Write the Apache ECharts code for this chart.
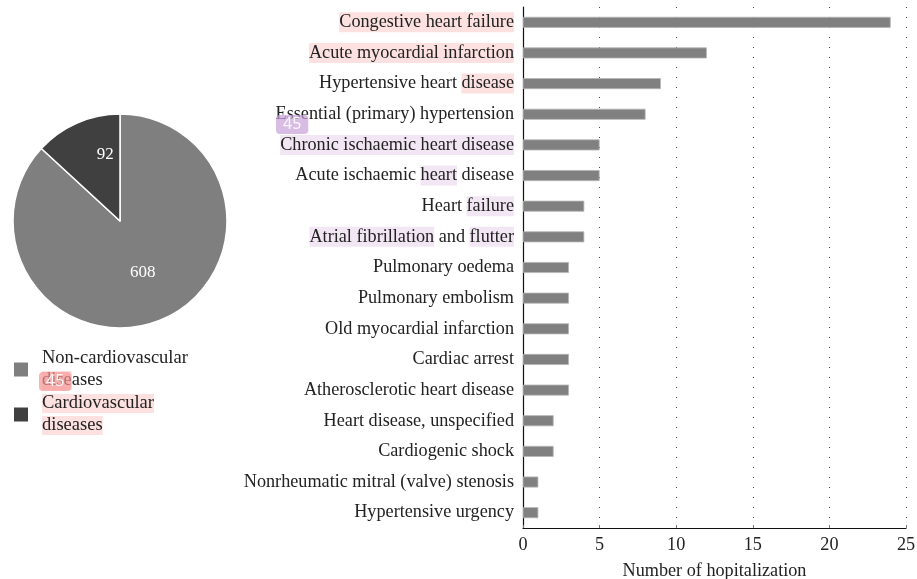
<!DOCTYPE html>
<html>
<head>
<meta charset="utf-8">
<script src="https://cdn.jsdelivr.net/npm/echarts@6/dist/echarts.min.js"></script>
<style>html,body{margin:0;padding:0;background:#fff}#c{width:917px;height:579px}</style>
</head>
<body>
<div id="c"></div>
<script>
// ---- data ----
const categories = [
  'Congestive heart failure',
  'Acute myocardial infarction',
  'Hypertensive heart disease',
  'Essential (primary) hypertension',
  'Chronic ischaemic heart disease',
  'Acute ischaemic heart disease',
  'Heart failure',
  'Atrial fibrillation and flutter',
  'Pulmonary oedema',
  'Pulmonary embolism',
  'Old myocardial infarction',
  'Cardiac arrest',
  'Atherosclerotic heart disease',
  'Heart disease, unspecified',
  'Cardiogenic shock',
  'Nonrheumatic mitral (valve) stenosis',
  'Hypertensive urgency'
];
const counts = [24, 12, 9, 8, 5, 5, 4, 4, 3, 3, 3, 3, 3, 2, 2, 1, 1];
const pieNames = ['Non-cardiovascular diseases', 'Cardiovascular diseases'];
const pieValues = [608, 92];
const xTickValues = [0, 5, 10, 15, 20, 25];
const xAxisTitle = 'Number of hopitalization';

// highlighted text segments (annotation overlays in the reference)
const labelSegments = {
  'Congestive heart failure': [['Congestive heart failure', 'p']],
  'Acute myocardial infarction': [['Acute myocardial infarction', 'p']],
  'Hypertensive heart disease': [['Hypertensive heart ', 'n'], ['disease', 'p']],
  'Chronic ischaemic heart disease': [['Chronic ischaemic heart disease', 'v']],
  'Acute ischaemic heart disease': [['Acute ischaemic ', 'n'], ['heart', 'v'], [' disease', 'n']],
  'Heart failure': [['Heart ', 'n'], ['failure', 'v']],
  'Atrial fibrillation and flutter': [['Atrial fibrillation', 'v'], [' and ', 'n'], ['flutter', 'v']]
};

const FONT = '"Liberation Serif", "Times New Roman", serif';
const TXT = '#222';
const PINK = '#fde1e1';
const LAV = '#f2e6f4';
const FS = 18.2;

function seg(text, style) {
  return '{' + style + '|' + text + '}';
}
function fmtCat(v) {
  const s = labelSegments[v];
  if (!s) return seg(v, 'n');
  return s.map(x => seg(x[0], x[1])).join('');
}
const baseRich = {
  n: { fontFamily: FONT, fontSize: FS, color: TXT, padding: [1, 0, 1, 0] },
  p: { fontFamily: FONT, fontSize: FS, color: TXT, backgroundColor: PINK, padding: [1, 0, 1, 0] },
  v: { fontFamily: FONT, fontSize: FS, color: TXT, backgroundColor: LAV, padding: [1, 0, 1, 0] }
};

const chart = echarts.init(document.getElementById('c'), null, { renderer: 'canvas' });
chart.setOption({
  animation: false,
  backgroundColor: '#fff',
  grid: { left: 523, right: 11, top: 7, bottom: 51, containLabel: false, outerBoundsMode: 'none' },
  xAxis: {
    type: 'value',
    min: xTickValues[0],
    max: xTickValues[xTickValues.length - 1],
    interval: xTickValues[1] - xTickValues[0],
    name: xAxisTitle,
    nameLocation: 'middle',
    nameGap: 34,
    nameTextStyle: { fontFamily: FONT, fontSize: FS, color: TXT },
    axisLine: { show: true, lineStyle: { color: '#111', width: 1.2 } },
    axisTick: { show: true, inside: true, length: 3, lineStyle: { color: '#777' } },
    axisLabel: { fontFamily: FONT, fontSize: FS, color: TXT, margin: 8 },
    splitLine: { show: true, lineStyle: { color: '#444', type: [1, 9], width: 1 } }
  },
  yAxis: {
    type: 'category',
    data: categories,
    inverse: true,
    axisLine: { show: true, lineStyle: { color: '#111', width: 1.2 } },
    axisTick: { show: false },
    axisLabel: { margin: 9, formatter: fmtCat, rich: baseRich },
    splitLine: { show: false }
  },
  legend: {
    orient: 'vertical',
    left: 12,
    top: 349,
    padding: 0,
    itemWidth: 16,
    itemHeight: 16,
    itemGap: 4,
    icon: 'rect',
    data: pieNames,
    formatter: function (name) {
      if (name === pieNames[0]) return '{s|}{n|Non-cardiovascular}\n{s|}{p|dise}{n|ases}';
      return '{s|}{p|Cardiovascular}\n{s|}{p|diseases}';
    },
    textStyle: {
      rich: {
        s: { width: 8, lineHeight: 22 },
        n: { fontFamily: FONT, fontSize: 18.5, color: TXT, lineHeight: 22 },
        p: { fontFamily: FONT, fontSize: 18.5, color: TXT, lineHeight: 22, backgroundColor: PINK }
      }
    }
  },
  series: [
    {
      type: 'bar',
      data: counts,
      barWidth: 11,
      itemStyle: { color: '#808080', borderColor: '#b5b5b5', borderWidth: 0.8 },
      silent: true
    },
    {
      type: 'pie',
      center: [120, 221],
      radius: [0, 107],
      startAngle: 90,
      clockwise: true,
      silent: true,
      itemStyle: { borderColor: '#fff', borderWidth: 1.5 },
      label: {
        show: true,
        position: 'inside',
        fontFamily: FONT,
        fontSize: 17,
        color: '#fff',
        formatter: '{c}'
      },
      labelLine: { show: false },
      data: [
        { name: pieNames[0], value: pieValues[0], itemStyle: { color: '#7f7f7f' } },
        { name: pieNames[1], value: pieValues[1], itemStyle: { color: '#404040' },
          label: {
            formatter: '{a|{c}}\n{b|}',
            padding: [0, 0, 0, 16],
            rich: {
              a: { fontFamily: FONT, fontSize: 17, color: '#fff', lineHeight: 18 },
              b: { height: 30, lineHeight: 30 }
            }
          } }
      ]
    }
  ],
  graphic: [
    { type: 'text', left: 276, top: 115, z: 100,
      style: { text: '45', fontFamily: 'Noto Sans, sans-serif', fontSize: 16, fill: 'rgba(255,255,255,0.9)',
               backgroundColor: 'rgba(200,160,215,0.7)', padding: [1, 7, 2, 7], borderRadius: 4 } },
    { type: 'text', left: 39, top: 372, z: 100,
      style: { text: '45', fontFamily: 'Noto Sans, sans-serif', fontSize: 16, fill: 'rgba(255,255,255,0.9)',
               backgroundColor: 'rgba(245,150,150,0.7)', padding: [1, 7, 2, 7], borderRadius: 4 } }
  ]
});
</script>
</body>
</html>
